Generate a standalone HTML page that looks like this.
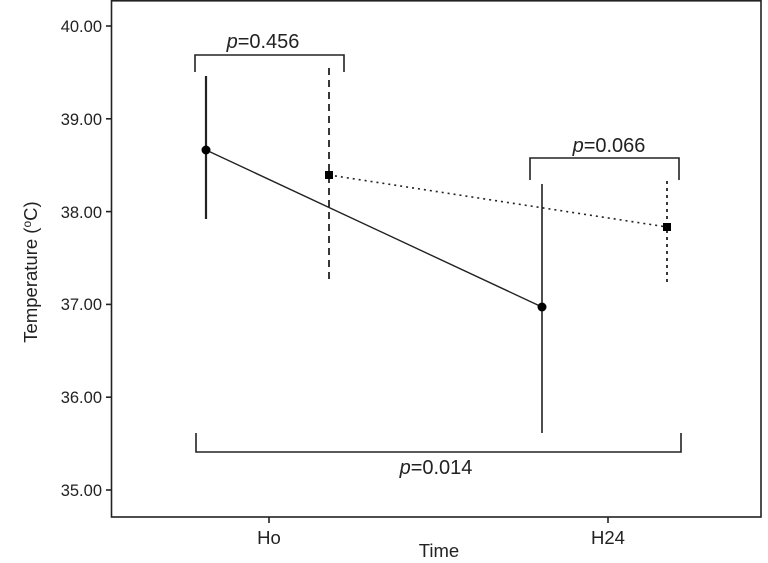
<!DOCTYPE html><html><head><style>body{margin:0;background:#fff}</style></head><body>
<svg width="768" height="558" xmlns="http://www.w3.org/2000/svg" font-family="Liberation Sans, sans-serif" fill="#222">
<rect x="111.5" y="0.8" width="649.5" height="516.2" fill="none" stroke="#222" stroke-width="1.6"/>
<g stroke="#222" stroke-width="1.6">
<line x1="106" y1="26" x2="111" y2="26"/><line x1="106" y1="118.8" x2="111" y2="118.8"/><line x1="106" y1="211.6" x2="111" y2="211.6"/><line x1="106" y1="304.4" x2="111" y2="304.4"/><line x1="106" y1="397.2" x2="111" y2="397.2"/><line x1="106" y1="490" x2="111" y2="490"/>
<line x1="269" y1="517" x2="269" y2="523"/><line x1="608" y1="517" x2="608" y2="523"/>
</g>
<g font-size="16.5" text-anchor="end">
<text x="102" y="32">40.00</text><text x="102" y="125">39.00</text><text x="102" y="218">38.00</text><text x="102" y="310">37.00</text><text x="102" y="403">36.00</text><text x="102" y="496">35.00</text>
</g>
<g font-size="18.5" text-anchor="middle">
<text x="269" y="544">Ho</text><text x="608" y="544">H24</text><text x="439" y="557">Time</text>
<text transform="translate(37,272) rotate(-90)">Temperature (<tspan font-size="12" dy="-6">o</tspan><tspan dy="6">C)</tspan></text>
</g>
<g font-size="20" text-anchor="middle">
<text x="263" y="48"><tspan font-style="italic">p</tspan>=0.456</text>
<text x="609" y="152"><tspan font-style="italic">p</tspan>=0.066</text>
<text x="436" y="474"><tspan font-style="italic">p</tspan>=0.014</text>
</g>
<g fill="none" stroke="#222" stroke-width="1.6">
<polyline points="195,72 195,55 344,55 344,72"/>
<polyline points="530,180 530,158 679,158 679,180"/>
<polyline points="196,433 196,452 681,452 681,433"/>
<line x1="206" y1="76" x2="206" y2="219" stroke-width="2.2"/>
<line x1="542" y1="184" x2="542" y2="433" stroke-width="1.6"/>
<line x1="206" y1="150" x2="542" y2="307" stroke-width="1.4"/>
<line x1="329" y1="68" x2="329" y2="283" stroke-dasharray="7,5" stroke-width="1.8"/>
<line x1="667" y1="181" x2="667" y2="282" stroke-dasharray="3,4" stroke-width="1.8"/>
<line x1="329" y1="175" x2="667" y2="227" stroke-dasharray="2,4" stroke-width="1.6"/>
</g>
<circle cx="206" cy="150" r="4.5" fill="#000"/>
<circle cx="542" cy="307" r="4.5" fill="#000"/>
<rect x="325" y="171" width="8" height="8" fill="#000"/>
<rect x="663" y="223" width="8" height="8" fill="#000"/>
</svg>
</body></html>
